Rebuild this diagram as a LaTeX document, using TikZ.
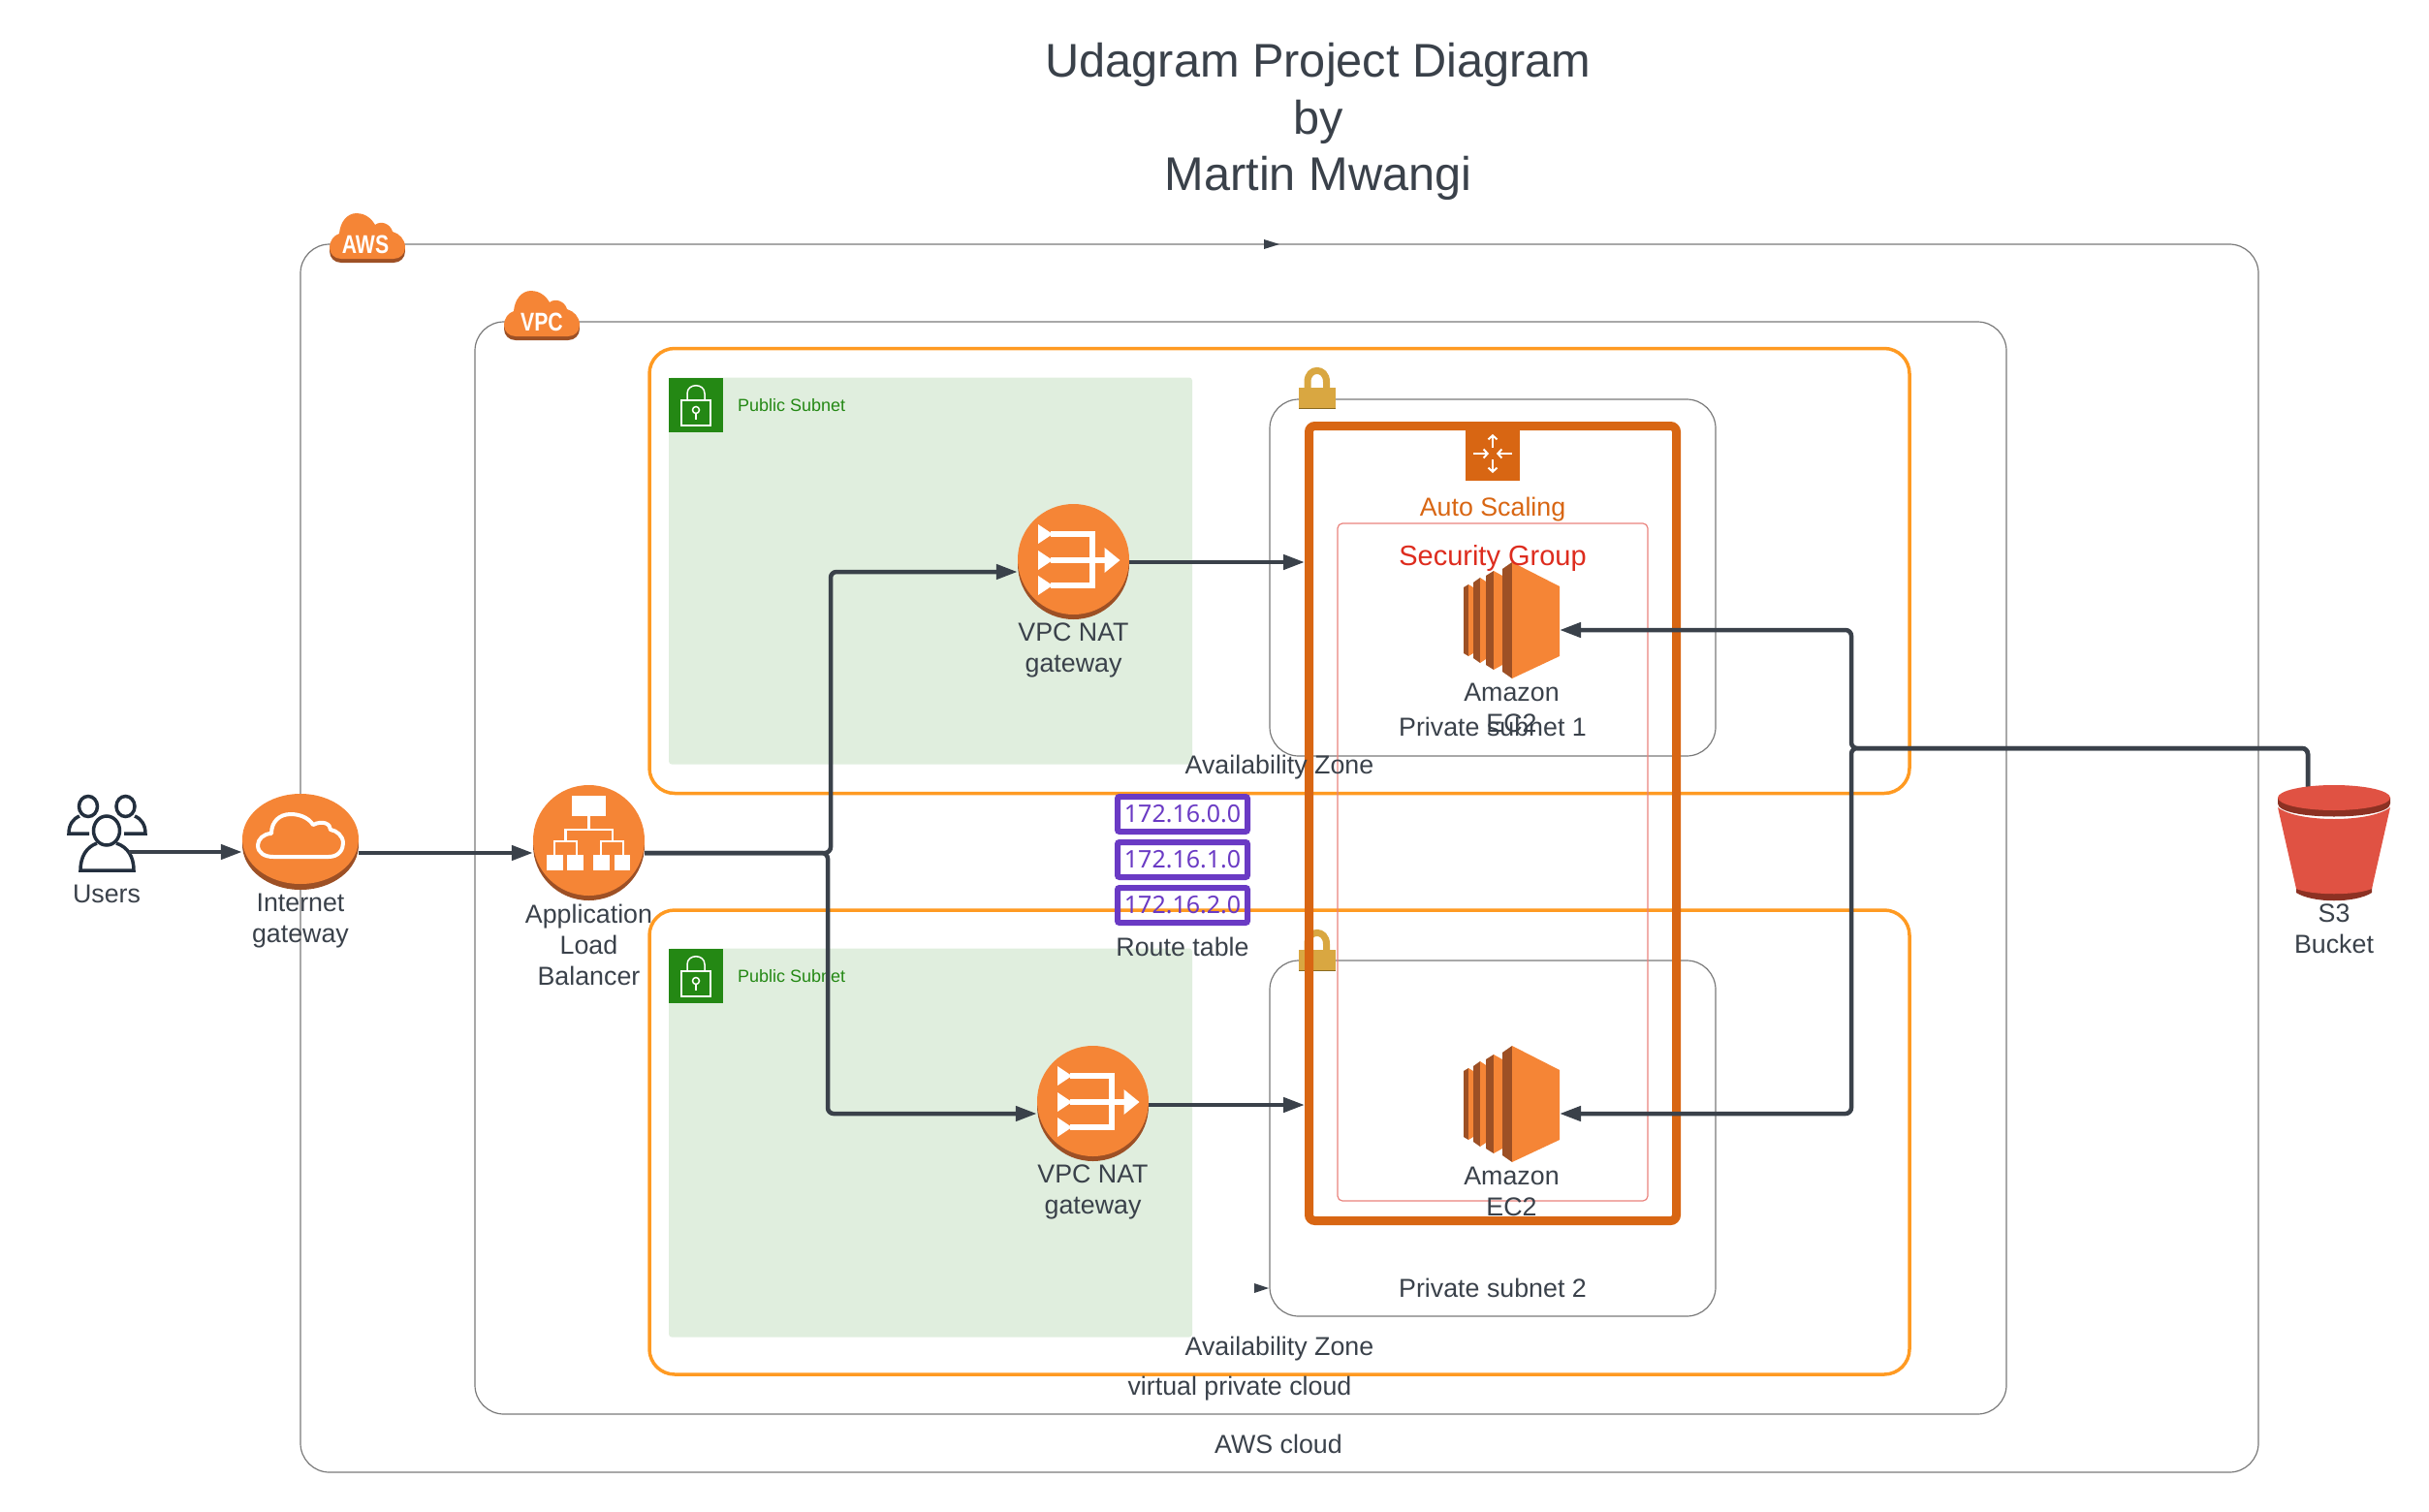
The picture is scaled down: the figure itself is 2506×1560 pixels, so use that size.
\documentclass[tikz,border=0pt]{standalone}
\usepackage{fontspec}
\setmainfont{Liberation Sans}
\newfontfamily\routefont{Noto Sans}
\usetikzlibrary{shapes.geometric,arrows.meta}
\definecolor{inktext}{HTML}{3A414A}
\definecolor{awsorange}{HTML}{F58536}
\definecolor{awsdark}{HTML}{9D5025}
\definecolor{s3red}{HTML}{E05243}
\definecolor{s3dark}{HTML}{8C3123}
\definecolor{subgreen}{HTML}{248814}
\definecolor{palegreen}{HTML}{E0EEDE}
\definecolor{asgorange}{HTML}{D86613}
\definecolor{azorange}{HTML}{FF9A22}
\definecolor{gold}{HTML}{D9A741}
\definecolor{golddark}{HTML}{8A6A20}
\definecolor{sgpink}{HTML}{E9827C}
\definecolor{sgred}{HTML}{DD2C1E}
\definecolor{routepurple}{HTML}{6A3AC4}
\definecolor{linegray}{HTML}{7A7A7A}
\definecolor{usersink}{HTML}{232F3E}
\tikzset{
  x=1pt,y=-1pt,
  lbl/.style={text=inktext,inner sep=0pt,align=center,font=\fontsize{26.8}{32}\selectfont},
  title/.style={text=inktext,inner sep=0pt,align=center,font=\fontsize{48.7}{58.5}\selectfont},
  frame/.style={draw=linegray,line width=1.2pt,rounded corners=30pt,inner sep=0pt},
  azbox/.style={draw=azorange,line width=3.5pt,rounded corners=26pt,inner sep=0pt},
  greenbox/.style={fill=palegreen,rounded corners=3pt,inner sep=0pt},
  pubtext/.style={text=subgreen,inner sep=0pt,font=\fontsize{18}{22}\selectfont,anchor=west},
  disc/.style={ellipse,fill=awsorange,inner sep=0pt},
  holder/.style={inner sep=0pt,outer sep=0pt},
  route/.style={draw=routepurple,line width=6pt,rounded corners=2pt,inner sep=0pt,minimum width=134pt,minimum height=36pt,text=routepurple,font=\routefont\fontsize{25}{30}\selectfont},
  conn/.style={draw=inktext,line width=4.5pt,rounded corners=6pt,-{Triangle[length=22pt,width=15pt]}},
  cloudword/.style={text=white,inner sep=0pt,xscale=.8,font=\fontsize{26.5}{30}\selectfont\bfseries},
}
\newcommand{\cloudshape}{(12,47) -- (66,47) .. controls (73,47) and (78,42) .. (78,35) .. controls (78,27) and (72,21) .. (65,19) .. controls (63,11) and (53,7) .. (47,12) .. controls (42,3) and (34,0) .. (28,0) .. controls (18,0) and (11,9) .. (10,21) .. controls (4,23) and (0,29) .. (0,35) .. controls (0,42) and (5,47) .. (12,47) -- cycle}
\newcommand{\awscloud}[2]{\begin{scope}[shift={(#1,#2)}]
  \fill[awsdark] [yshift=-4pt] \cloudshape;
  \fill[awsorange] \cloudshape;
\end{scope}}
\newcommand{\sublock}[2]{\begin{scope}[shift={(#1,#2)}]
  \fill[subgreen] (0,0) rectangle (56,56);
  \draw[white,line width=1.5pt] (13,23) rectangle (43,49);
  \draw[white,line width=1.5pt] (19,23) -- (19,16) .. controls (19,5) and (37,5) .. (37,16) -- (37,23);
  \draw[white,line width=1.5pt] (28,33) circle [radius=3.5];
  \draw[white,line width=1.5pt] (28,36.5) -- (28,43);
\end{scope}}
\newcommand{\goldlock}[2]{\begin{scope}[shift={(#1,#2)}]
  \draw[gold,line width=7pt] (9,21) -- (9,14) .. controls (9,-1.5) and (28.5,-1.5) .. (28.5,14) -- (28.5,21);
  \fill[golddark] (0,20) rectangle (37.5,42);
  \fill[gold] (0,20) rectangle (37.5,41);
\end{scope}}
\newcommand{\ecicon}[2]{\begin{scope}[shift={(#1,#2)}]
  \fill[awsdark] (0,26) -- (5,23) -- (5,97) -- (0,94) -- cycle;
  \fill[awsorange] (5,23) -- (10,26) -- (10,94) -- (5,97) -- cycle;
  \fill[awsdark] (10,21) -- (17,16) -- (17,104) -- (10,99) -- cycle;
  \fill[awsorange] (17,16) -- (23,20) -- (23,100) -- (17,104) -- cycle;
  \fill[awsdark] (23,14) -- (31,9) -- (31,111) -- (23,106) -- cycle;
  \fill[awsorange] (31,9) -- (40,14) -- (40,106) -- (31,111) -- cycle;
  \fill[awsdark] (40,7) -- (50,0) -- (50,120) -- (40,113) -- cycle;
  \fill[awsorange] (50,0) -- (99,25) -- (99,97) -- (50,120) -- cycle;
\end{scope}}
\newcommand{\naticon}[2]{\begin{scope}[shift={(#1,#2)}]
  \fill[white] (-36.5,-36) -- (-21.5,-26) -- (-36.5,-16) -- cycle;
  \fill[white] (-36.5,-9) -- (-21.5,1) -- (-36.5,11) -- cycle;
  \fill[white] (-36.5,17) -- (-21.5,27) -- (-36.5,37) -- cycle;
  \draw[white,line width=6pt] (-24,-26) -- (19,-26) -- (19,27) -- (-24,27);
  \draw[white,line width=6pt] (-24,1) -- (34,1);
  \fill[white] (32,-12) -- (48,1) -- (32,14) -- cycle;
\end{scope}}
\begin{document}
\begin{tikzpicture}
\useasboundingbox (0,0) rectangle (2506,1560);
% frames
\node[frame,minimum width=2020pt,minimum height=1267pt] (awsframe) at (1320,885.5) {};
\node[frame,minimum width=1580pt,minimum height=1127pt] (vpcframe) at (1280,895.5) {};
\node[azbox,minimum width=1300pt,minimum height=459pt] (az1) at (1320,589) {};
\node[azbox,minimum width=1300pt,minimum height=479pt] (az2) at (1320,1178.5) {};
\node[greenbox,minimum width=540pt,minimum height=399pt] (pub1) at (960,589) {};
\node[greenbox,minimum width=540pt,minimum height=401pt] (pub2) at (960,1179) {};
\sublock{690}{390}
\sublock{690}{979}
\node[pubtext] (pubt1) at (761,418) {Public Subnet};
\node[pubtext] (pubt2) at (761,1007.5) {Public Subnet};
\node[frame,minimum width=460pt,minimum height=368pt] (priv1) at (1540,596) {};
\node[frame,minimum width=460pt,minimum height=367pt] (priv2) at (1540,1174.5) {};
\goldlock{1340}{380}
\goldlock{1340}{960}
% tiny arrowheads on the frames
\fill[inktext] (1304,247) -- (1320,252) -- (1304,257) -- cycle;
\fill[inktext] (1294,1324) -- (1309,1329) -- (1294,1334) -- cycle;
% clouds
\awscloud{340}{220}
\awscloud{520}{300}
\node[cloudword] (awsword) at (377,252) {AWS};
\node[cloudword] (vpcword) at (559,332) {VPC};
% auto scaling group
\node[draw=asgorange,line width=9pt,rounded corners=6pt,inner sep=0pt,minimum width=379pt,minimum height=820pt] (asg) at (1540,849.5) {};
\fill[asgorange] (1512,435) rectangle (1568,496);
\begin{scope}[white,line width=2pt,-{Straight Barb[length=4pt,width=9pt]}]
  \draw (1520,468) -- (1536,468);
  \draw (1560,468) -- (1544,468);
  \draw (1540,462) -- (1540,448);
  \draw (1540,474) -- (1540,488);
\end{scope}
\node[draw=sgpink,line width=1.2pt,rounded corners=5pt,inner sep=0pt,minimum width=320pt,minimum height=699pt] (sg) at (1540,889.5) {};
% route table
\node[route] (r0) at (1220,840) {172.16.0.0};
\node[route] (r1) at (1220,887) {172.16.1.0};
\node[route] (r2) at (1220,934) {172.16.2.0};
% users icon
\node[holder,minimum width=80pt,minimum height=78pt] (users) at (110,860) {};
\begin{scope}[draw=usersink,line width=3.5pt]
  \draw (91,832) ellipse [x radius=9.5,y radius=10.5];
  \draw (129.5,832) ellipse [x radius=9.5,y radius=10.5];
  \draw (82,842) .. controls (75,845) and (71,851) .. (71,860) -- (92,860);
  \draw (139,842) .. controls (146,845) and (150,851) .. (150,860) -- (128,860);
  \draw (110,857) ellipse [x radius=13.5,y radius=15];
  \draw (100,870) .. controls (89,874) and (83,884) .. (83,898) -- (138,898) .. controls (138,884) and (132,874) .. (120,870);
\end{scope}
% internet gateway
\fill[awsdark] (310,871.5) ellipse [x radius=60,y radius=46.5];
\node[disc,minimum width=120pt,minimum height=93pt] (igw) at (310,865.5) {};
\draw[white,line width=4pt,line join=round] (282,884) -- (339,884) .. controls (350,884) and (354,876) .. (354,870) .. controls (354,862) and (347,857) .. (341,856) .. controls (341,850) and (333,846) .. (323,851) .. controls (318,843) and (308,840) .. (300,840) .. controls (288,840) and (280,848) .. (280,860) .. controls (272,860) and (266,866) .. (266,872) .. controls (266,880) and (273,884) .. (282,884) -- cycle;
% load balancer
\fill[awsdark] (607.5,872) ellipse [x radius=57.5,y radius=57];
\node[disc,minimum width=115pt,minimum height=114pt] (alb) at (607.5,867) {};
\fill[white] (590,821) rectangle (624.5,842);
\draw[white,line width=2.5pt] (607.5,842) -- (607.5,856) (583.5,868) -- (583.5,856) -- (632,856) -- (632,868);
\draw[white,line width=2.5pt] (572,882) -- (572,868) -- (595,868) -- (595,882);
\draw[white,line width=2.5pt] (620,882) -- (620,868) -- (643,868) -- (643,882);
\fill[white] (564,882) rectangle (581,898);
\fill[white] (585,882) rectangle (602,898);
\fill[white] (612,882) rectangle (629,898);
\fill[white] (634,882) rectangle (650,898);
% NAT gateways
\fill[awsdark] (1107.5,582) ellipse [x radius=57.5,y radius=57];
\node[disc,minimum width=115pt,minimum height=114pt] (nat1) at (1107.5,577) {};
\naticon{1107.5}{577}
\fill[awsdark] (1127.5,1141) ellipse [x radius=57.5,y radius=57];
\node[disc,minimum width=115pt,minimum height=114pt] (nat2) at (1127.5,1136) {};
\naticon{1127.5}{1136}
% EC2
\ecicon{1510}{580}
\ecicon{1510}{1079}
\node[holder,minimum width=99pt,minimum height=120pt] (ec1) at (1559.5,640) {};
\node[holder,minimum width=99pt,minimum height=120pt] (ec2) at (1559.5,1139) {};
% connector guides
\coordinate (usersout) at (133,879);
\coordinate (rowalb) at (0,880);
\coordinate (colup) at (857,0);
\coordinate (coldown) at (854,0);
\coordinate (rownat1in) at (0,590);
\coordinate (rownat2in) at (0,1149);
\coordinate (rownat1out) at (0,580);
\coordinate (rownat2out) at (0,1140);
\coordinate (s3top) at (2381,812);
\coordinate (rows3) at (0,772);
\coordinate (cols3) at (1910,0);
\coordinate (rowec1) at (0,650);
\coordinate (rowec2) at (0,1149);
% connectors
\draw[conn] (usersout) -- (igw.west |- usersout);
\draw[conn] (igw.east |- rowalb) -- (alb.west |- rowalb);
\draw[conn] (alb.east |- rowalb) -- (colup |- rowalb) -- (colup |- rownat1in) -- (nat1.west |- rownat1in);
\draw[conn] (alb.east |- rowalb) -- (coldown |- rowalb) -- (coldown |- rownat2in) -- (nat2.west |- rownat2in);
\draw[conn] (nat1.east |- rownat1out) -- (asg.west |- rownat1out);
\draw[conn] (nat2.east |- rownat2out) -- (asg.west |- rownat2out);
\draw[conn] (s3top) -- (s3top |- rows3) -- (cols3 |- rows3) -- (cols3 |- rowec1) -- (ec1.east |- rowec1);
\draw[conn] (s3top) -- (s3top |- rows3) -- (cols3 |- rows3) -- (cols3 |- rowec2) -- (ec2.east |- rowec2);
% S3 bucket
\node[holder,minimum width=116pt,minimum height=119pt] (s3) at (2408,869.5) {};
\fill[s3dark] (2369,912) -- (2447,912) -- (2447,921) .. controls (2430,932) and (2386,932) .. (2369,921) -- cycle;
\fill[s3red] (2350,833) .. controls (2370,849) and (2446,849) .. (2466,833) -- (2447,917) .. controls (2430,924) and (2386,924) .. (2369,917) -- cycle;
\fill[s3dark] (2350,823) -- (2466,823) -- (2466,829) .. controls (2466,847) and (2350,847) .. (2350,829) -- cycle;
\fill[s3red] (2408,823) ellipse [x radius=58,y radius=13];
% texts
\node[title] (ttl) at (1360,125.5) {Udagram Project Diagram\\by\\Martin Mwangi};
\node[lbl] (tusers) at (110,922) {Users};
\node[lbl] (tigw) at (310,950.5) {Internet\\gateway};
\node[lbl] (talb) at (607.5,975) {Application\\Load\\Balancer};
\node[lbl] (tnat1) at (1107.5,670.5) {VPC NAT\\gateway};
\node[lbl] (tnat2) at (1127.5,1229.5) {VPC NAT\\gateway};
\node[lbl,text=asgorange] (tasg) at (1540,526) {Auto Scaling};
\node[lbl,text=sgred,font=\fontsize{29}{34}\selectfont] (tsg) at (1540,576) {Security Group};
\node[lbl] (tec1) at (1559.5,730) {Amazon\\EC2};
\node[lbl] (tec2) at (1559.5,1229) {Amazon\\EC2};
\node[lbl] (tpriv1) at (1540,750) {Private subnet 1};
\node[lbl] (tpriv2) at (1540,1329) {Private subnet 2};
\node[lbl] (taz1) at (1320,792) {Availability Zone};
\node[lbl] (taz2) at (1320,1392) {Availability Zone};
\node[lbl] (trt) at (1220,977) {Route table};
\node[lbl] (ts3) at (2408,958.5) {S3\\Bucket};
\node[lbl] (tvpc) at (1279,1433) {virtual private cloud};
\node[lbl] (taws) at (1319,1490) {AWS cloud};
\end{tikzpicture}
\end{document}
